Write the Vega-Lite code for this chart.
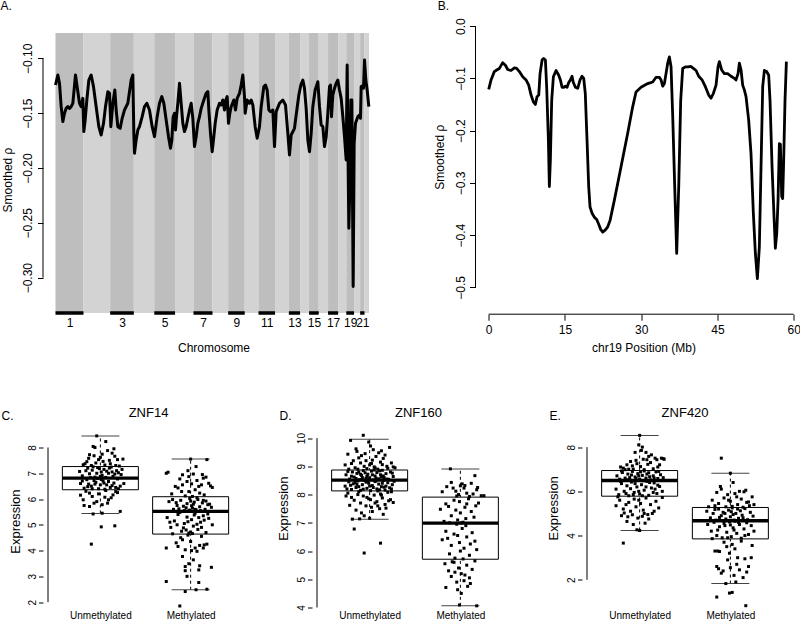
{
"$schema":"https://vega.github.io/schema/vega-lite/v6.json",
"background":"white",
"padding":{"left":0,"top":0,"right":0,"bottom":0},
"spacing":52.5,
"config":{
"font":"Liberation Sans",
"view":{"stroke":null},
"axis":{"domain":false,"grid":false,"labelFlush":false,"labelOverlap":false,"labelColor":"black","titleColor":"black","tickColor":"black","titleFontWeight":"normal","labelFontSize":12,"titleFontSize":12,"tickWidth":1},
"axisY":{"labelAngle":-90,"labelAlign":"center","labelBaseline":"alphabetic","titleAngle":-90,"titleAlign":"center","titleBaseline":"middle"},
"axisX":{"labelAngle":0,"labelBaseline":"top"},
"title":{"fontSize":12,"fontWeight":"normal","anchor":"start","frame":"group","color":"black","offset":1.8,"baseline":"alphabetic"}
},
"datasets":{
"chroms":[{"chr":1,"start":0,"end":252,"parity":"odd"},{"chr":2,"start":252,"end":492,"parity":"even"},{"chr":3,"start":492,"end":705,"parity":"odd"},{"chr":4,"start":705,"end":889,"parity":"even"},{"chr":5,"start":889,"end":1076,"parity":"odd"},{"chr":6,"start":1076,"end":1242,"parity":"even"},{"chr":7,"start":1242,"end":1413,"parity":"odd"},{"chr":8,"start":1413,"end":1554,"parity":"even"},{"chr":9,"start":1554,"end":1703,"parity":"odd"},{"chr":10,"start":1703,"end":1827,"parity":"even"},{"chr":11,"start":1827,"end":1976,"parity":"odd"},{"chr":12,"start":1976,"end":2100,"parity":"even"},{"chr":13,"start":2100,"end":2201,"parity":"odd"},{"chr":14,"start":2201,"end":2282,"parity":"even"},{"chr":15,"start":2282,"end":2369,"parity":"odd"},{"chr":16,"start":2369,"end":2453,"parity":"even"},{"chr":17,"start":2453,"end":2544,"parity":"odd"},{"chr":18,"start":2544,"end":2617,"parity":"even"},{"chr":19,"start":2617,"end":2687,"parity":"odd"},{"chr":20,"start":2687,"end":2742,"parity":"even"},{"chr":21,"start":2742,"end":2781,"parity":"odd"},{"chr":22,"start":2781,"end":2822,"parity":"even"}],
"gw":[{"pos":0,"rho":-0.1243},{"pos":21,"rho":-0.1152},{"pos":36,"rho":-0.1228},{"pos":51,"rho":-0.1441},{"pos":66,"rho":-0.1577},{"pos":81,"rho":-0.1501},{"pos":96,"rho":-0.1456},{"pos":111,"rho":-0.1441},{"pos":126,"rho":-0.1456},{"pos":141,"rho":-0.1441},{"pos":156,"rho":-0.141},{"pos":180,"rho":-0.1152},{"pos":201,"rho":-0.1304},{"pos":216,"rho":-0.141},{"pos":231,"rho":-0.1441},{"pos":246,"rho":-0.1365},{"pos":255,"rho":-0.1668},{"pos":267,"rho":-0.1562},{"pos":282,"rho":-0.138},{"pos":300,"rho":-0.1198},{"pos":321,"rho":-0.1152},{"pos":342,"rho":-0.1258},{"pos":366,"rho":-0.1441},{"pos":390,"rho":-0.1623},{"pos":411,"rho":-0.1699},{"pos":432,"rho":-0.1593},{"pos":450,"rho":-0.1441},{"pos":471,"rho":-0.1304},{"pos":486,"rho":-0.1319},{"pos":498,"rho":-0.1623},{"pos":516,"rho":-0.141},{"pos":534,"rho":-0.1289},{"pos":546,"rho":-0.1471},{"pos":561,"rho":-0.1623},{"pos":582,"rho":-0.1638},{"pos":600,"rho":-0.1547},{"pos":621,"rho":-0.1471},{"pos":651,"rho":-0.141},{"pos":681,"rho":-0.1198},{"pos":696,"rho":-0.1152},{"pos":705,"rho":-0.1684},{"pos":711,"rho":-0.1866},{"pos":726,"rho":-0.1744},{"pos":741,"rho":-0.1653},{"pos":756,"rho":-0.1623},{"pos":780,"rho":-0.1532},{"pos":801,"rho":-0.1441},{"pos":822,"rho":-0.141},{"pos":846,"rho":-0.1471},{"pos":870,"rho":-0.1623},{"pos":891,"rho":-0.1714},{"pos":915,"rho":-0.1532},{"pos":936,"rho":-0.141},{"pos":957,"rho":-0.1349},{"pos":975,"rho":-0.141},{"pos":996,"rho":-0.1562},{"pos":1017,"rho":-0.1714},{"pos":1035,"rho":-0.182},{"pos":1047,"rho":-0.1744},{"pos":1059,"rho":-0.1532},{"pos":1071,"rho":-0.1501},{"pos":1080,"rho":-0.1653},{"pos":1089,"rho":-0.1532},{"pos":1101,"rho":-0.141},{"pos":1116,"rho":-0.1228},{"pos":1131,"rho":-0.141},{"pos":1146,"rho":-0.1593},{"pos":1161,"rho":-0.1668},{"pos":1176,"rho":-0.1623},{"pos":1191,"rho":-0.1547},{"pos":1206,"rho":-0.1471},{"pos":1221,"rho":-0.141},{"pos":1236,"rho":-0.1547},{"pos":1251,"rho":-0.1805},{"pos":1266,"rho":-0.1714},{"pos":1281,"rho":-0.1593},{"pos":1296,"rho":-0.1532},{"pos":1311,"rho":-0.1456},{"pos":1335,"rho":-0.138},{"pos":1356,"rho":-0.1319},{"pos":1371,"rho":-0.1304},{"pos":1380,"rho":-0.1471},{"pos":1395,"rho":-0.1684},{"pos":1410,"rho":-0.1851},{"pos":1425,"rho":-0.1714},{"pos":1437,"rho":-0.1593},{"pos":1455,"rho":-0.1471},{"pos":1476,"rho":-0.141},{"pos":1491,"rho":-0.1425},{"pos":1506,"rho":-0.138},{"pos":1521,"rho":-0.1471},{"pos":1533,"rho":-0.138},{"pos":1545,"rho":-0.1349},{"pos":1557,"rho":-0.1593},{"pos":1569,"rho":-0.1501},{"pos":1581,"rho":-0.1441},{"pos":1605,"rho":-0.138},{"pos":1620,"rho":-0.1471},{"pos":1635,"rho":-0.1365},{"pos":1656,"rho":-0.1319},{"pos":1671,"rho":-0.1243},{"pos":1686,"rho":-0.1152},{"pos":1701,"rho":-0.1349},{"pos":1707,"rho":-0.1501},{"pos":1725,"rho":-0.138},{"pos":1746,"rho":-0.141},{"pos":1761,"rho":-0.138},{"pos":1776,"rho":-0.1425},{"pos":1797,"rho":-0.1623},{"pos":1815,"rho":-0.1729},{"pos":1836,"rho":-0.1623},{"pos":1851,"rho":-0.1441},{"pos":1875,"rho":-0.1258},{"pos":1890,"rho":-0.1243},{"pos":1905,"rho":-0.1289},{"pos":1920,"rho":-0.1471},{"pos":1935,"rho":-0.1486},{"pos":1956,"rho":-0.1471},{"pos":1971,"rho":-0.1805},{"pos":1986,"rho":-0.1486},{"pos":2016,"rho":-0.141},{"pos":2046,"rho":-0.138},{"pos":2070,"rho":-0.1425},{"pos":2091,"rho":-0.1684},{"pos":2106,"rho":-0.1881},{"pos":2121,"rho":-0.1699},{"pos":2151,"rho":-0.1638},{"pos":2166,"rho":-0.1517},{"pos":2190,"rho":-0.1334},{"pos":2208,"rho":-0.1243},{"pos":2226,"rho":-0.1198},{"pos":2241,"rho":-0.1273},{"pos":2256,"rho":-0.1456},{"pos":2271,"rho":-0.1744},{"pos":2286,"rho":-0.1851},{"pos":2301,"rho":-0.1684},{"pos":2316,"rho":-0.1441},{"pos":2337,"rho":-0.1289},{"pos":2361,"rho":-0.1213},{"pos":2376,"rho":-0.1441},{"pos":2391,"rho":-0.1608},{"pos":2406,"rho":-0.1623},{"pos":2421,"rho":-0.1805},{"pos":2436,"rho":-0.1714},{"pos":2451,"rho":-0.1501},{"pos":2466,"rho":-0.1258},{"pos":2475,"rho":-0.1243},{"pos":2484,"rho":-0.1532},{"pos":2496,"rho":-0.1334},{"pos":2511,"rho":-0.1273},{"pos":2526,"rho":-0.1228},{"pos":2541,"rho":-0.1198},{"pos":2556,"rho":-0.1289},{"pos":2571,"rho":-0.1365},{"pos":2586,"rho":-0.1532},{"pos":2601,"rho":-0.1714},{"pos":2616,"rho":-0.1927},{"pos":2625,"rho":-0.1061},{"pos":2634,"rho":-0.1988},{"pos":2640,"rho":-0.255},{"pos":2649,"rho":-0.217},{"pos":2658,"rho":-0.138},{"pos":2667,"rho":-0.138},{"pos":2679,"rho":-0.3081},{"pos":2688,"rho":-0.1775},{"pos":2700,"rho":-0.1593},{"pos":2721,"rho":-0.1532},{"pos":2736,"rho":-0.1517},{"pos":2745,"rho":-0.1547},{"pos":2751,"rho":-0.1258},{"pos":2763,"rho":-0.1252},{"pos":2772,"rho":-0.1273},{"pos":2781,"rho":-0.1015},{"pos":2793,"rho":-0.1198},{"pos":2805,"rho":-0.1289},{"pos":2820,"rho":-0.1441}],
"c19":[{"pos":0,"rho":-0.121},{"pos":0.46,"rho":-0.103},{"pos":1.11,"rho":-0.087},{"pos":1.57,"rho":-0.084},{"pos":2.1,"rho":-0.081},{"pos":2.75,"rho":-0.07},{"pos":3.28,"rho":-0.075},{"pos":3.74,"rho":-0.083},{"pos":4.39,"rho":-0.085},{"pos":5.05,"rho":-0.08},{"pos":5.5,"rho":-0.081},{"pos":6.03,"rho":-0.087},{"pos":6.69,"rho":-0.097},{"pos":7.34,"rho":-0.103},{"pos":7.87,"rho":-0.113},{"pos":8.33,"rho":-0.132},{"pos":8.79,"rho":-0.145},{"pos":9.18,"rho":-0.15},{"pos":9.51,"rho":-0.135},{"pos":9.84,"rho":-0.132},{"pos":10.1,"rho":-0.091},{"pos":10.5,"rho":-0.065},{"pos":10.8,"rho":-0.062},{"pos":11.15,"rho":-0.065},{"pos":11.4,"rho":-0.116},{"pos":11.74,"rho":-0.218},{"pos":11.93,"rho":-0.307},{"pos":12.13,"rho":-0.256},{"pos":12.39,"rho":-0.142},{"pos":12.72,"rho":-0.097},{"pos":13.25,"rho":-0.085},{"pos":13.77,"rho":-0.094},{"pos":14.1,"rho":-0.103},{"pos":14.43,"rho":-0.117},{"pos":14.75,"rho":-0.117},{"pos":15.08,"rho":-0.115},{"pos":15.41,"rho":-0.117},{"pos":15.74,"rho":-0.108},{"pos":16.06,"rho":-0.103},{"pos":16.39,"rho":-0.096},{"pos":16.65,"rho":-0.108},{"pos":17.05,"rho":-0.117},{"pos":17.51,"rho":-0.119},{"pos":17.97,"rho":-0.103},{"pos":18.36,"rho":-0.096},{"pos":18.69,"rho":-0.1},{"pos":19.0,"rho":-0.129},{"pos":19.34,"rho":-0.218},{"pos":19.67,"rho":-0.307},{"pos":19.93,"rho":-0.346},{"pos":20.33,"rho":-0.358},{"pos":20.8,"rho":-0.366},{"pos":21.25,"rho":-0.37},{"pos":21.64,"rho":-0.379},{"pos":22.03,"rho":-0.389},{"pos":22.43,"rho":-0.394},{"pos":22.95,"rho":-0.39},{"pos":23.41,"rho":-0.384},{"pos":23.87,"rho":-0.372},{"pos":24.72,"rho":-0.333},{"pos":26.03,"rho":-0.269},{"pos":27.34,"rho":-0.205},{"pos":28.33,"rho":-0.154},{"pos":28.98,"rho":-0.126},{"pos":29.97,"rho":-0.117},{"pos":31.28,"rho":-0.11},{"pos":32.26,"rho":-0.107},{"pos":32.92,"rho":-0.098},{"pos":33.57,"rho":-0.098},{"pos":33.9,"rho":-0.103},{"pos":34.23,"rho":-0.115},{"pos":34.56,"rho":-0.11},{"pos":34.88,"rho":-0.091},{"pos":35.21,"rho":-0.071},{"pos":35.54,"rho":-0.059},{"pos":35.87,"rho":-0.078},{"pos":36.2,"rho":-0.173},{"pos":36.59,"rho":-0.307},{"pos":36.98,"rho":-0.435},{"pos":37.38,"rho":-0.307},{"pos":37.77,"rho":-0.142},{"pos":38.16,"rho":-0.081},{"pos":38.69,"rho":-0.078},{"pos":39.21,"rho":-0.078},{"pos":39.74,"rho":-0.077},{"pos":40.26,"rho":-0.081},{"pos":40.79,"rho":-0.085},{"pos":41.31,"rho":-0.096},{"pos":41.97,"rho":-0.103},{"pos":42.62,"rho":-0.116},{"pos":43.28,"rho":-0.132},{"pos":43.74,"rho":-0.138},{"pos":44.19,"rho":-0.129},{"pos":44.72,"rho":-0.113},{"pos":45.11,"rho":-0.078},{"pos":45.37,"rho":-0.068},{"pos":45.83,"rho":-0.084},{"pos":46.36,"rho":-0.091},{"pos":47.01,"rho":-0.091},{"pos":47.67,"rho":-0.096},{"pos":48.33,"rho":-0.1},{"pos":48.65,"rho":-0.103},{"pos":49.05,"rho":-0.091},{"pos":49.31,"rho":-0.071},{"pos":49.64,"rho":-0.084},{"pos":49.96,"rho":-0.113},{"pos":50.29,"rho":-0.122},{"pos":50.62,"rho":-0.135},{"pos":51.14,"rho":-0.18},{"pos":51.6,"rho":-0.244},{"pos":52.06,"rho":-0.358},{"pos":52.46,"rho":-0.435},{"pos":52.85,"rho":-0.483},{"pos":53.24,"rho":-0.423},{"pos":53.64,"rho":-0.237},{"pos":53.9,"rho":-0.116},{"pos":54.23,"rho":-0.085},{"pos":54.69,"rho":-0.087},{"pos":55.08,"rho":-0.094},{"pos":55.34,"rho":-0.142},{"pos":55.74,"rho":-0.269},{"pos":56.13,"rho":-0.365},{"pos":56.39,"rho":-0.425},{"pos":56.66,"rho":-0.397},{"pos":56.92,"rho":-0.333},{"pos":57.18,"rho":-0.225},{"pos":57.38,"rho":-0.226},{"pos":57.64,"rho":-0.326},{"pos":57.83,"rho":-0.33},{"pos":58.03,"rho":-0.256},{"pos":58.29,"rho":-0.142},{"pos":58.56,"rho":-0.068}],
"aax":[{"a":-0.3,"b":-0.1}],
"bay":[{"a":-0.5,"b":0}],
"bax":[{"a":0,"b":60}],
"cax":[{"a":2,"b":8}],
"dax":[{"a":4,"b":10}],
"eax":[{"a":2,"b":8}],
"cbox":[{"g":1,"lo":5.44,"q1":6.36,"med":6.81,"q3":7.26,"hi":8.45},{"g":2,"lo":2.48,"q1":4.64,"med":5.52,"q3":6.09,"hi":7.55}],
"dbox":[{"g":1,"lo":7.13,"q1":8.13,"med":8.51,"q3":8.87,"hi":9.96},{"g":2,"lo":4.06,"q1":5.71,"med":6.99,"q3":7.91,"hi":8.91}],
"ebox":[{"g":1,"lo":4.23,"q1":5.78,"med":6.49,"q3":6.94,"hi":8.53},{"g":2,"lo":1.83,"q1":3.85,"med":4.67,"q3":5.27,"hi":6.82}],
"cpts":[{"x":0.96,"y":8.45},{"x":1.06,"y":8.23},{"x":0.92,"y":8.04},{"x":0.94,"y":8.0},{"x":1.15,"y":7.95},{"x":0.88,"y":7.72},{"x":1.02,"y":7.74},{"x":1.08,"y":7.88},{"x":0.87,"y":7.58},{"x":0.98,"y":7.53},{"x":1.16,"y":7.66},{"x":1.19,"y":7.53},{"x":1.25,"y":7.55},{"x":0.95,"y":7.4},{"x":1.03,"y":7.46},{"x":1.11,"y":7.37},{"x":1.17,"y":7.3},{"x":0.81,"y":7.33},{"x":0.83,"y":7.37},{"x":1.21,"y":7.28},{"x":0.9,"y":7.3},{"x":1.0,"y":7.62},{"x":1.1,"y":7.5},{"x":0.85,"y":7.45},{"x":1.13,"y":7.78},{"x":0.93,"y":7.68},{"x":1.05,"y":7.32},
{"x":0.77,"y":7.07},{"x":0.86,"y":7.2},{"x":0.91,"y":7.12},{"x":0.97,"y":7.22},{"x":1.01,"y":7.05},{"x":1.04,"y":7.15},{"x":1.09,"y":7.0},{"x":1.12,"y":7.24},{"x":1.18,"y":7.1},{"x":1.23,"y":6.95},{"x":0.8,"y":6.9},{"x":0.88,"y":6.98},{"x":0.94,"y":6.85},{"x":0.99,"y":7.18},{"x":1.02,"y":6.92},{"x":1.07,"y":7.08},{"x":1.14,"y":6.88},{"x":1.2,"y":7.02},{"x":0.84,"y":7.1},{"x":0.96,"y":7.0},{"x":1.06,"y":6.84},{"x":1.1,"y":7.2},{"x":0.92,"y":7.25},{"x":1.16,"y":6.97},{"x":1.0,"y":6.88},{"x":0.89,"y":6.83},{"x":1.24,"y":7.15},{"x":1.13,"y":7.05},
{"x":0.78,"y":6.6},{"x":0.85,"y":6.75},{"x":0.9,"y":6.5},{"x":0.95,"y":6.65},{"x":0.98,"y":6.4},{"x":1.03,"y":6.7},{"x":1.07,"y":6.55},{"x":1.11,"y":6.45},{"x":1.15,"y":6.62},{"x":1.19,"y":6.78},{"x":1.22,"y":6.5},{"x":0.82,"y":6.42},{"x":0.87,"y":6.58},{"x":0.93,"y":6.72},{"x":1.0,"y":6.55},{"x":1.05,"y":6.38},{"x":1.09,"y":6.68},{"x":1.17,"y":6.45},{"x":1.26,"y":6.6},{"x":0.8,"y":6.7},{"x":0.91,"y":6.4},{"x":0.97,"y":6.8},{"x":1.04,"y":6.62},{"x":1.13,"y":6.52},{"x":0.86,"y":6.48},{"x":1.01,"y":6.76},{"x":1.2,"y":6.4},{"x":0.94,"y":6.58},
{"x":0.82,"y":5.75},{"x":0.88,"y":5.71},{"x":0.81,"y":5.97},{"x":0.93,"y":5.84},{"x":1.02,"y":5.78},{"x":1.08,"y":5.84},{"x":1.09,"y":5.97},{"x":1.05,"y":6.07},{"x":0.98,"y":6.2},{"x":0.91,"y":6.1},{"x":1.14,"y":6.16},{"x":1.17,"y":6.29},{"x":0.88,"y":6.23},{"x":1.22,"y":5.52},{"x":1.02,"y":5.45},{"x":0.92,"y":5.42},{"x":0.84,"y":6.3},{"x":1.12,"y":6.05},{"x":0.96,"y":5.9},{"x":1.19,"y":6.25},{"x":0.78,"y":6.15},{"x":1.06,"y":6.33},{"x":1.01,"y":4.92},{"x":1.16,"y":4.96},{"x":0.9,"y":4.25},
{"x":2.0,"y":7.55},{"x":2.18,"y":7.53},{"x":2.06,"y":7.26},{"x":1.73,"y":7.0},{"x":1.75,"y":7.04},{"x":1.91,"y":6.94},{"x":1.98,"y":6.87},{"x":2.03,"y":6.97},{"x":2.14,"y":6.81},{"x":2.17,"y":6.85},{"x":1.88,"y":6.78},{"x":1.83,"y":6.49},{"x":1.86,"y":6.43},{"x":1.91,"y":6.55},{"x":1.96,"y":6.68},{"x":2.01,"y":6.59},{"x":2.07,"y":6.72},{"x":2.09,"y":6.49},{"x":2.12,"y":6.55},{"x":2.2,"y":6.61},{"x":2.22,"y":6.51},{"x":1.9,"y":6.29},{"x":1.98,"y":6.29},{"x":2.1,"y":6.23},{"x":2.15,"y":6.16},{"x":2.05,"y":6.36},{"x":1.94,"y":6.12},{"x":2.24,"y":6.45},{"x":1.79,"y":6.2},{"x":2.02,"y":6.1},{"x":2.13,"y":6.95},{"x":1.97,"y":7.1},
{"x":1.76,"y":5.9},{"x":1.81,"y":5.6},{"x":1.85,"y":5.75},{"x":1.89,"y":5.95},{"x":1.93,"y":5.55},{"x":1.96,"y":5.82},{"x":1.99,"y":6.02},{"x":2.02,"y":5.65},{"x":2.04,"y":5.88},{"x":2.06,"y":5.58},{"x":2.08,"y":5.98},{"x":2.1,"y":5.7},{"x":2.13,"y":5.85},{"x":2.16,"y":5.6},{"x":2.19,"y":5.78},{"x":2.23,"y":5.68},{"x":1.8,"y":5.98},{"x":1.87,"y":5.62},{"x":1.92,"y":5.72},{"x":1.97,"y":5.53},{"x":2.0,"y":5.92},{"x":2.03,"y":5.8},{"x":2.07,"y":6.05},{"x":2.11,"y":5.55},{"x":2.14,"y":5.95},{"x":2.21,"y":5.8},{"x":1.95,"y":5.66},{"x":2.01,"y":5.74},{"x":2.05,"y":5.6},{"x":1.84,"y":5.86},{"x":2.17,"y":5.92},{"x":1.99,"y":5.57},
{"x":1.74,"y":5.28},{"x":1.78,"y":4.9},{"x":1.82,"y":5.15},{"x":1.86,"y":5.4},{"x":1.9,"y":4.75},{"x":1.93,"y":5.05},{"x":1.96,"y":5.3},{"x":1.98,"y":4.68},{"x":2.01,"y":5.2},{"x":2.03,"y":4.95},{"x":2.05,"y":5.45},{"x":2.08,"y":4.82},{"x":2.11,"y":5.1},{"x":2.14,"y":5.35},{"x":2.17,"y":4.7},{"x":2.2,"y":5.25},{"x":2.24,"y":5.0},{"x":1.8,"y":4.65},{"x":1.88,"y":5.48},{"x":1.92,"y":4.88},{"x":1.97,"y":5.12},{"x":2.0,"y":4.72},{"x":2.04,"y":5.38},{"x":2.07,"y":5.02},{"x":2.12,"y":4.9},{"x":2.15,"y":5.18},{"x":2.19,"y":5.42},{"x":1.85,"y":5.0},{"x":1.95,"y":4.8},{"x":2.09,"y":5.28},{"x":2.02,"y":4.66},{"x":1.77,"y":5.1},
{"x":1.73,"y":4.1},{"x":1.86,"y":4.16},{"x":1.91,"y":4.42},{"x":1.94,"y":4.03},{"x":2.01,"y":4.0},{"x":2.05,"y":4.1},{"x":2.1,"y":4.2},{"x":2.15,"y":4.22},{"x":2.18,"y":4.25},{"x":2.14,"y":4.1},{"x":2.07,"y":3.97},{"x":1.91,"y":3.77},{"x":2.03,"y":3.64},{"x":1.98,"y":3.49},{"x":1.94,"y":3.38},{"x":2.09,"y":3.25},{"x":2.1,"y":3.41},{"x":1.94,"y":3.22},{"x":2.23,"y":3.35},{"x":1.96,"y":3.0},{"x":1.73,"y":2.8},{"x":2.09,"y":2.76},{"x":1.94,"y":2.41},{"x":2.06,"y":2.48},{"x":2.18,"y":2.5},{"x":1.89,"y":4.5},{"x":2.0,"y":4.35},{"x":2.12,"y":4.55},{"x":1.97,"y":4.6},{"x":1.84,"y":4.3},{"x":1.88,"y":1.85}],
"dpts":[{"x":0.93,"y":10.1},{"x":0.79,"y":9.92},{"x":0.99,"y":9.86},{"x":1.22,"y":9.67},{"x":0.76,"y":9.43},{"x":0.86,"y":9.53},{"x":0.95,"y":9.45},{"x":1.04,"y":9.59},{"x":1.07,"y":9.35},{"x":1.15,"y":9.28},{"x":0.82,"y":9.2},{"x":0.9,"y":9.12},{"x":1.0,"y":9.05},{"x":1.12,"y":9.15},{"x":1.19,"y":9.0},{"x":1.26,"y":8.98},{"x":0.73,"y":9.05},{"x":0.84,"y":8.95},{"x":0.97,"y":8.92},{"x":1.03,"y":9.22},{"x":1.09,"y":8.9},{"x":1.17,"y":9.4},{"x":0.88,"y":9.3},{"x":1.01,"y":9.72},{"x":1.1,"y":9.48},{"x":0.8,"y":9.1},{"x":0.94,"y":9.0},{"x":1.06,"y":8.95},{"x":1.14,"y":9.06},{"x":1.24,"y":9.12},{"x":0.77,"y":8.9},{"x":0.91,"y":9.38},{"x":1.02,"y":9.1},{"x":1.2,"y":8.93},{"x":0.85,"y":9.62},{"x":1.13,"y":9.55},{"x":0.96,"y":9.2},{"x":1.05,"y":8.98},{"x":1.28,"y":8.95},{"x":0.87,"y":8.9},
{"x":0.74,"y":8.7},{"x":0.78,"y":8.55},{"x":0.81,"y":8.8},{"x":0.83,"y":8.62},{"x":0.86,"y":8.75},{"x":0.89,"y":8.53},{"x":0.91,"y":8.68},{"x":0.93,"y":8.85},{"x":0.96,"y":8.58},{"x":0.98,"y":8.72},{"x":1.0,"y":8.6},{"x":1.02,"y":8.83},{"x":1.04,"y":8.52},{"x":1.06,"y":8.66},{"x":1.08,"y":8.78},{"x":1.1,"y":8.56},{"x":1.12,"y":8.7},{"x":1.14,"y":8.86},{"x":1.16,"y":8.6},{"x":1.18,"y":8.74},{"x":1.21,"y":8.54},{"x":1.23,"y":8.8},{"x":1.26,"y":8.64},{"x":0.76,"y":8.82},{"x":0.8,"y":8.65},{"x":0.85,"y":8.57},{"x":0.88,"y":8.8},{"x":0.92,"y":8.6},{"x":0.95,"y":8.77},{"x":0.99,"y":8.53},{"x":1.03,"y":8.7},{"x":1.07,"y":8.58},{"x":1.11,"y":8.84},{"x":1.15,"y":8.66},{"x":1.19,"y":8.55},{"x":1.25,"y":8.76},{"x":0.9,"y":8.72},{"x":0.97,"y":8.64},{"x":1.05,"y":8.87},{"x":1.13,"y":8.62},
{"x":0.73,"y":8.3},{"x":0.77,"y":8.45},{"x":0.8,"y":8.18},{"x":0.82,"y":8.38},{"x":0.85,"y":8.25},{"x":0.87,"y":8.48},{"x":0.9,"y":8.15},{"x":0.92,"y":8.35},{"x":0.94,"y":8.5},{"x":0.97,"y":8.22},{"x":0.99,"y":8.4},{"x":1.01,"y":8.14},{"x":1.03,"y":8.32},{"x":1.06,"y":8.46},{"x":1.08,"y":8.2},{"x":1.1,"y":8.37},{"x":1.13,"y":8.28},{"x":1.15,"y":8.5},{"x":1.17,"y":8.16},{"x":1.2,"y":8.42},{"x":1.22,"y":8.24},{"x":1.25,"y":8.35},{"x":1.27,"y":8.47},{"x":0.75,"y":8.2},{"x":0.79,"y":8.33},{"x":0.84,"y":8.43},{"x":0.88,"y":8.28},{"x":0.93,"y":8.19},{"x":0.96,"y":8.44},{"x":1.0,"y":8.3},{"x":1.04,"y":8.25},{"x":1.07,"y":8.49},{"x":1.11,"y":8.17},{"x":1.14,"y":8.4},{"x":1.18,"y":8.3},{"x":1.24,"y":8.2},{"x":0.86,"y":8.36},{"x":0.98,"y":8.47},{"x":1.09,"y":8.13},{"x":1.16,"y":8.26},
{"x":0.76,"y":8.05},{"x":0.8,"y":7.9},{"x":0.83,"y":7.8},{"x":0.87,"y":8.0},{"x":0.9,"y":7.7},{"x":0.93,"y":7.95},{"x":0.96,"y":7.6},{"x":0.99,"y":7.85},{"x":1.02,"y":7.55},{"x":1.05,"y":7.98},{"x":1.08,"y":7.75},{"x":1.11,"y":7.5},{"x":1.14,"y":7.88},{"x":1.17,"y":7.65},{"x":1.2,"y":8.08},{"x":1.23,"y":7.82},{"x":1.26,"y":7.72},{"x":0.78,"y":7.62},{"x":0.85,"y":7.45},{"x":0.91,"y":7.35},{"x":0.97,"y":7.9},{"x":1.03,"y":7.4},{"x":1.09,"y":7.6},{"x":1.15,"y":7.3},{"x":1.21,"y":7.78},{"x":0.81,"y":7.13},{"x":0.89,"y":7.14},{"x":1.0,"y":7.16},{"x":1.12,"y":8.02},{"x":0.94,"y":7.25},{"x":1.06,"y":7.7},{"x":1.18,"y":7.52},{"x":0.74,"y":7.95},{"x":1.24,"y":8.1},{"x":0.88,"y":8.1},{"x":1.01,"y":7.82},{"x":1.13,"y":7.98},{"x":0.83,"y":6.78},{"x":1.12,"y":6.28},{"x":0.94,"y":5.93},
{"x":1.89,"y":8.91},{"x":2.16,"y":8.67},{"x":1.9,"y":8.43},{"x":1.92,"y":8.23},{"x":2.0,"y":8.31},{"x":2.02,"y":8.38},{"x":2.04,"y":8.23},{"x":1.95,"y":8.12},{"x":2.18,"y":8.17},{"x":2.19,"y":8.25},{"x":2.23,"y":7.96},{"x":2.26,"y":7.96},{"x":1.98,"y":8.0},{"x":2.07,"y":8.05},{"x":1.85,"y":8.28},{"x":2.1,"y":7.93},{"x":1.8,"y":8.1},{"x":2.12,"y":8.4},{"x":2.05,"y":8.32},{"x":1.96,"y":7.95},{"x":2.14,"y":8.02},
{"x":1.78,"y":7.48},{"x":1.84,"y":7.67},{"x":1.87,"y":7.58},{"x":2.07,"y":7.67},{"x":2.12,"y":7.4},{"x":1.9,"y":7.25},{"x":1.93,"y":7.8},{"x":1.97,"y":7.1},{"x":2.0,"y":7.35},{"x":2.03,"y":7.02},{"x":2.05,"y":7.55},{"x":2.09,"y":7.85},{"x":2.15,"y":7.2},{"x":2.2,"y":7.7},{"x":1.82,"y":7.05},{"x":1.88,"y":7.0},{"x":1.95,"y":7.45},{"x":2.01,"y":7.0},{"x":2.06,"y":7.15},{"x":2.17,"y":7.6},{"x":1.99,"y":7.75},
{"x":1.84,"y":6.7},{"x":1.86,"y":6.45},{"x":1.9,"y":6.2},{"x":1.93,"y":6.6},{"x":1.96,"y":6.95},{"x":1.99,"y":6.3},{"x":2.02,"y":6.8},{"x":2.04,"y":6.1},{"x":2.07,"y":6.5},{"x":2.1,"y":5.85},{"x":2.13,"y":6.65},{"x":2.16,"y":6.35},{"x":1.88,"y":5.9},{"x":1.94,"y":5.75},{"x":2.0,"y":6.0},{"x":2.06,"y":6.9},{"x":2.11,"y":6.25},{"x":1.8,"y":6.4},{"x":2.18,"y":6.05},{"x":1.97,"y":6.55},{"x":2.03,"y":5.72},
{"x":1.83,"y":5.55},{"x":1.87,"y":5.3},{"x":1.9,"y":5.1},{"x":1.93,"y":5.6},{"x":1.96,"y":4.9},{"x":1.98,"y":5.4},{"x":2.01,"y":5.2},{"x":2.04,"y":4.95},{"x":2.07,"y":5.5},{"x":2.1,"y":5.05},{"x":2.13,"y":5.35},{"x":2.16,"y":5.65},{"x":1.84,"y":4.71},{"x":1.97,"y":4.63},{"x":2.01,"y":4.5},{"x":1.99,"y":4.09},{"x":2.18,"y":4.06},{"x":1.91,"y":5.62},{"x":2.05,"y":5.15},{"x":2.11,"y":4.85},{"x":1.94,"y":5.25},{"x":2.08,"y":4.75}],
"epts":[{"x":1.0,"y":8.53},{"x":0.99,"y":8.1},{"x":1.03,"y":8.0},{"x":0.95,"y":7.76},{"x":1.07,"y":7.76},{"x":1.1,"y":7.58},{"x":1.08,"y":7.43},{"x":1.24,"y":7.5},{"x":1.19,"y":7.43},{"x":1.2,"y":7.1},{"x":0.82,"y":7.05},{"x":0.86,"y":7.2},{"x":0.9,"y":7.35},{"x":0.93,"y":7.0},{"x":0.97,"y":7.25},{"x":1.01,"y":7.12},{"x":1.04,"y":7.45},{"x":1.12,"y":7.3},{"x":1.15,"y":7.02},{"x":1.17,"y":7.5},{"x":1.22,"y":7.2},{"x":1.26,"y":7.48},{"x":0.79,"y":7.1},{"x":0.88,"y":7.0},{"x":0.92,"y":7.15},{"x":1.05,"y":6.98},{"x":1.13,"y":7.65},{"x":1.02,"y":7.85},{"x":0.96,"y":7.4},{"x":1.27,"y":7.45},{"x":0.84,"y":6.98},{"x":1.09,"y":7.22},
{"x":0.75,"y":6.7},{"x":0.78,"y":6.55},{"x":0.81,"y":6.85},{"x":0.84,"y":6.6},{"x":0.87,"y":6.78},{"x":0.9,"y":6.5},{"x":0.92,"y":6.9},{"x":0.95,"y":6.65},{"x":0.98,"y":6.8},{"x":1.0,"y":6.55},{"x":1.03,"y":6.72},{"x":1.05,"y":6.92},{"x":1.07,"y":6.6},{"x":1.1,"y":6.84},{"x":1.12,"y":6.52},{"x":1.15,"y":6.7},{"x":1.18,"y":6.88},{"x":1.2,"y":6.58},{"x":1.23,"y":6.75},{"x":1.26,"y":6.62},{"x":0.8,"y":6.92},{"x":0.86,"y":6.52},{"x":0.91,"y":6.74},{"x":0.96,"y":6.58},{"x":1.01,"y":6.88},{"x":1.06,"y":6.5},{"x":1.11,"y":6.66},{"x":1.16,"y":6.6},{"x":1.21,"y":6.9},{"x":0.89,"y":6.62},{"x":0.99,"y":6.7},{"x":1.08,"y":6.78},
{"x":0.74,"y":6.1},{"x":0.77,"y":5.85},{"x":0.8,"y":6.35},{"x":0.83,"y":6.0},{"x":0.86,"y":6.25},{"x":0.88,"y":5.8},{"x":0.91,"y":6.42},{"x":0.94,"y":5.95},{"x":0.97,"y":6.2},{"x":1.0,"y":5.88},{"x":1.02,"y":6.3},{"x":1.05,"y":6.05},{"x":1.08,"y":6.45},{"x":1.1,"y":5.82},{"x":1.13,"y":6.15},{"x":1.16,"y":6.38},{"x":1.19,"y":5.9},{"x":1.22,"y":6.22},{"x":1.25,"y":6.0},{"x":0.79,"y":6.45},{"x":0.85,"y":5.9},{"x":0.9,"y":6.12},{"x":0.95,"y":6.35},{"x":0.99,"y":6.0},{"x":1.03,"y":5.8},{"x":1.07,"y":6.2},{"x":1.11,"y":6.4},{"x":1.15,"y":5.95},{"x":1.2,"y":6.28},{"x":0.93,"y":5.85},{"x":1.04,"y":6.48},{"x":1.17,"y":6.1},
{"x":0.74,"y":5.35},{"x":0.82,"y":5.2},{"x":0.83,"y":5.02},{"x":0.92,"y":4.94},{"x":1.03,"y":4.87},{"x":0.86,"y":4.64},{"x":0.98,"y":4.79},{"x":1.06,"y":4.56},{"x":0.97,"y":4.26},{"x":1.0,"y":4.23},{"x":0.78,"y":5.6},{"x":0.8,"y":4.9},{"x":0.88,"y":5.5},{"x":0.9,"y":5.1},{"x":0.94,"y":5.65},{"x":0.96,"y":5.3},{"x":1.01,"y":5.45},{"x":1.04,"y":5.15},{"x":1.07,"y":5.7},{"x":1.09,"y":4.95},{"x":1.12,"y":5.4},{"x":1.14,"y":5.0},{"x":1.18,"y":5.55},{"x":1.21,"y":5.25},{"x":1.25,"y":5.72},{"x":0.76,"y":5.75},{"x":0.85,"y":5.4},{"x":0.99,"y":5.6},{"x":1.1,"y":4.75},{"x":1.16,"y":5.1},{"x":0.93,"y":4.5},{"x":1.05,"y":5.0},{"x":0.87,"y":4.85},{"x":0.82,"y":3.66},
{"x":1.9,"y":7.5},{"x":2.0,"y":6.82},{"x":2.03,"y":6.4},{"x":1.89,"y":6.22},{"x":1.9,"y":6.1},{"x":1.85,"y":5.95},{"x":1.93,"y":5.7},{"x":1.97,"y":5.85},{"x":2.0,"y":5.55},{"x":2.05,"y":5.9},{"x":2.08,"y":5.4},{"x":2.12,"y":5.65},{"x":2.15,"y":5.98},{"x":2.18,"y":5.5},{"x":2.21,"y":5.35},{"x":2.24,"y":5.75},{"x":1.8,"y":5.6},{"x":1.83,"y":5.35},{"x":1.87,"y":5.45},{"x":1.95,"y":5.3},{"x":2.02,"y":5.32},{"x":2.07,"y":5.75},{"x":2.1,"y":6.0},{"x":2.14,"y":5.28},{"x":2.2,"y":5.52},{"x":2.26,"y":5.4},{"x":1.76,"y":5.3},{"x":1.98,"y":5.6},{"x":2.17,"y":6.05},
{"x":1.74,"y":5.1},{"x":1.78,"y":4.8},{"x":1.81,"y":5.0},{"x":1.84,"y":4.7},{"x":1.87,"y":5.2},{"x":1.9,"y":4.9},{"x":1.92,"y":5.05},{"x":1.95,"y":4.75},{"x":1.98,"y":5.15},{"x":2.0,"y":4.85},{"x":2.02,"y":5.25},{"x":2.04,"y":4.7},{"x":2.06,"y":5.0},{"x":2.09,"y":4.78},{"x":2.11,"y":5.12},{"x":2.13,"y":4.92},{"x":2.16,"y":5.22},{"x":2.19,"y":4.72},{"x":2.22,"y":5.05},{"x":2.25,"y":4.88},{"x":1.83,"y":5.18},{"x":1.88,"y":4.82},{"x":1.94,"y":5.0},{"x":1.99,"y":4.68},{"x":2.03,"y":4.95},{"x":2.08,"y":5.2},{"x":2.14,"y":4.8},{"x":2.01,"y":5.08},
{"x":1.75,"y":4.5},{"x":1.79,"y":4.2},{"x":1.82,"y":4.6},{"x":1.85,"y":4.0},{"x":1.88,"y":4.4},{"x":1.91,"y":3.9},{"x":1.93,"y":4.55},{"x":1.96,"y":4.15},{"x":1.99,"y":4.62},{"x":2.01,"y":3.95},{"x":2.03,"y":4.35},{"x":2.05,"y":4.65},{"x":2.07,"y":4.1},{"x":2.1,"y":4.5},{"x":2.12,"y":3.88},{"x":2.15,"y":4.3},{"x":2.18,"y":4.58},{"x":2.2,"y":4.05},{"x":2.23,"y":4.45},{"x":2.26,"y":4.2},{"x":1.8,"y":3.86},{"x":1.86,"y":4.25},{"x":1.94,"y":4.45},{"x":1.97,"y":3.9},{"x":2.04,"y":4.25},{"x":2.09,"y":4.6},{"x":2.16,"y":4.0},{"x":2.0,"y":4.48},
{"x":1.83,"y":3.3},{"x":1.86,"y":3.3},{"x":1.88,"y":3.28},{"x":1.93,"y":3.7},{"x":1.96,"y":3.5},{"x":1.99,"y":3.2},{"x":2.02,"y":3.6},{"x":2.05,"y":3.4},{"x":2.08,"y":3.0},{"x":2.12,"y":3.75},{"x":2.16,"y":2.95},{"x":2.2,"y":2.6},{"x":2.23,"y":3.0},{"x":1.85,"y":2.6},{"x":1.87,"y":2.5},{"x":1.9,"y":2.3},{"x":1.92,"y":2.4},{"x":1.97,"y":2.9},{"x":2.0,"y":2.55},{"x":2.04,"y":2.2},{"x":2.07,"y":2.7},{"x":2.1,"y":2.45},{"x":2.14,"y":2.1},{"x":2.18,"y":2.35},{"x":1.95,"y":1.83},{"x":2.06,"y":1.9},{"x":2.24,"y":3.55},{"x":1.85,"y":1.22},{"x":1.99,"y":1.4},{"x":2.02,"y":1.43},{"x":2.17,"y":0.83}]
},
"vconcat":[
{"hconcat":[
{"width":338,"height":298,"title":{"text":"A.","dx":-42.5},
"layer":[
{"data":{"name":"chroms"},"mark":{"type":"rect"},"encoding":{
"x":{"field":"start","type":"quantitative","scale":{"domain":[-112.5,2929.5],"nice":false,"zero":false},"axis":{"values":[126,598.5,982.5,1327.5,1628.5,1901.5,2150.5,2325.5,2498.5,2652,2761.5],"tickCount":40,"labelExpr":"'' + (2*indexof([126,598.5,982.5,1327.5,1628.5,1901.5,2150.5,2325.5,2498.5,2652,2761.5], datum.value)+1)","labelOverlap":false,"labelBound":false,"ticks":false,"tickSize":0,"labelPadding":4.5,"title":"Chromosome","titleX":170.5,"titleY":38.5,"titleBaseline":"alphabetic"}},
"x2":{"field":"end"},
"y":{"datum":-0.3322,"type":"quantitative","scale":{"domain":[-0.3322,-0.0605],"nice":false,"zero":false},"axis":{"values":[-0.3,-0.25,-0.2,-0.15,-0.1],"tickCount":40,"format":".2f","labelOverlap":false,"tickSize":5.5,"labelPadding":6.3,"title":"Smoothed ρ","titleX":-35.3,"titleY":164.5}},
"y2":{"datum":-0.077},
"color":{"field":"parity","type":"nominal","scale":{"domain":["odd","even"],"range":["#BEBEBE","#D3D3D3"]},"legend":null}}},
{"data":{"name":"chroms"},"transform":[{"filter":"datum.parity == 'odd'"}],"mark":{"type":"rule","color":"black","strokeWidth":3.5},"encoding":{"x":{"field":"start","type":"quantitative"},"x2":{"field":"end"},"y":{"datum":-0.3322}}},
{"data":{"name":"gw"},"mark":{"type":"line","color":"black","strokeWidth":3,"strokeJoin":"round"},"encoding":{"x":{"field":"pos","type":"quantitative"},"y":{"field":"rho","type":"quantitative"}}},
{"data":{"name":"aax"},"mark":{"type":"rule","color":"black","strokeWidth":1},"encoding":{"x":{"datum":-112.5},"y":{"field":"a","type":"quantitative"},"y2":{"field":"b"}}}
]},
{"width":323.8,"height":299.2,"title":{"text":"B.","dx":-37.7},
"layer":[
{"data":{"name":"c19"},"mark":{"type":"line","color":"black","strokeWidth":2.8,"strokeJoin":"round"},"encoding":{
"x":{"field":"pos","type":"quantitative","scale":{"domain":[-2.6,61.1],"nice":false,"zero":false},"axis":{"values":[0,15,30,45,60],"tickCount":40,"labelOverlap":false,"tickSize":6,"labelPadding":4.5,"title":"chr19 Position (Mb)","titleX":168,"titleY":36.8,"titleBaseline":"alphabetic"}},
"y":{"field":"rho","type":"quantitative","scale":{"domain":[-0.5512,0.0212],"nice":false,"zero":false},"axis":{"values":[-0.5,-0.4,-0.3,-0.2,-0.1,0],"tickCount":40,"format":".1f","labelOverlap":false,"tickSize":6,"labelPadding":5,"title":"Smoothed ρ","titleX":-36,"titleY":141.7}}}},
{"data":{"name":"bay"},"mark":{"type":"rule","color":"black","strokeWidth":1},"encoding":{"x":{"datum":-2.6},"y":{"field":"a","type":"quantitative"},"y2":{"field":"b"}}},
{"data":{"name":"bax"},"mark":{"type":"rule","color":"black","strokeWidth":1},"encoding":{"y":{"datum":-0.5512},"x":{"field":"a","type":"quantitative"},"x2":{"field":"b"}}}
]}
],"spacing":94.5,"bounds":"flush"},
{"hconcat":[
{"width":205,"height":184.1,"title":{"text":"C.","dx":-41.5,"dy":17.8},
"layer":[
{"data":{"name":"cbox"},"mark":{"type":"rule","strokeDash":[3,3],"color":"black","strokeWidth":1},"encoding":{
"x":{"field":"g","type":"quantitative","scale":{"domain":[0.42,2.58],"nice":false,"zero":false},"axis":{"values":[1,2],"tickCount":40,"labelExpr":"datum.value == 1 ? 'Unmethylated' : 'Methylated'","labelOverlap":false,"ticks":false,"tickSize":0,"labelPadding":-2,"labelFontSize":10,"title":"ZNF14","titleFontSize":13,"titleX":105,"titleY":-195.6,"titleBaseline":"alphabetic","titleAlign":"center"}},
"y":{"field":"lo","type":"quantitative","scale":{"domain":[1.593,8.737],"nice":false,"zero":false},"axis":{"values":[2,3,4,5,6,7,8],"tickCount":40,"format":"d","labelOverlap":false,"tickSize":4.5,"labelPadding":3,"labelFontSize":10,"title":"Expression","titleFontSize":13,"titleX":-28,"titleY":92.6}},
"y2":{"field":"hi"}}},
{"data":{"name":"cbox"},"mark":{"type":"bar","width":76,"fill":"white","stroke":"black","strokeWidth":1},"encoding":{"x":{"field":"g","type":"quantitative"},"y":{"field":"q1","type":"quantitative"},"y2":{"field":"q3"}}},
{"data":{"name":"cbox"},"mark":{"type":"tick","orient":"horizontal","size":76,"thickness":3.3,"color":"black","opacity":1},"encoding":{"x":{"field":"g","type":"quantitative"},"y":{"field":"med","type":"quantitative"}}},
{"data":{"name":"cbox"},"mark":{"type":"tick","orient":"horizontal","size":38,"thickness":1,"color":"#444","opacity":1},"encoding":{"x":{"field":"g","type":"quantitative"},"y":{"field":"lo","type":"quantitative"}}},
{"data":{"name":"cbox"},"mark":{"type":"tick","orient":"horizontal","size":38,"thickness":1,"color":"#444","opacity":1},"encoding":{"x":{"field":"g","type":"quantitative"},"y":{"field":"hi","type":"quantitative"}}},
{"data":{"name":"cax"},"mark":{"type":"rule","color":"black","strokeWidth":1},"encoding":{"x":{"datum":0.42},"y":{"field":"a","type":"quantitative"},"y2":{"field":"b"}}},
{"data":{"name":"cpts"},"mark":{"type":"square","size":9,"color":"black","opacity":1},"encoding":{"x":{"field":"x","type":"quantitative"},"y":{"field":"y","type":"quantitative"}}}
]},
{"width":206,"height":184.1,"title":{"text":"D.","dx":-32.4,"dy":17.8},
"layer":[
{"data":{"name":"dbox"},"mark":{"type":"rule","strokeDash":[3,3],"color":"black","strokeWidth":1},"encoding":{
"x":{"field":"g","type":"quantitative","scale":{"domain":[0.42,2.58],"nice":false,"zero":false},"axis":{"values":[1,2],"tickCount":40,"labelExpr":"datum.value == 1 ? 'Unmethylated' : 'Methylated'","labelOverlap":false,"ticks":false,"tickSize":0,"labelPadding":-2,"labelFontSize":10,"title":"ZNF160","titleFontSize":13,"titleX":106,"titleY":-195.6,"titleBaseline":"alphabetic","titleAlign":"center"}},
"y":{"field":"lo","type":"quantitative","scale":{"domain":[3.82,10.34],"nice":false,"zero":false},"axis":{"values":[4,5,6,7,8,9,10],"tickCount":40,"format":"d","labelOverlap":false,"tickSize":4.5,"labelPadding":3,"labelFontSize":10,"title":"Expression","titleFontSize":13,"titleX":-28.7,"titleY":79.6}},
"y2":{"field":"hi"}}},
{"data":{"name":"dbox"},"mark":{"type":"bar","width":76,"fill":"white","stroke":"black","strokeWidth":1},"encoding":{"x":{"field":"g","type":"quantitative"},"y":{"field":"q1","type":"quantitative"},"y2":{"field":"q3"}}},
{"data":{"name":"dbox"},"mark":{"type":"tick","orient":"horizontal","size":76,"thickness":3.3,"color":"black","opacity":1},"encoding":{"x":{"field":"g","type":"quantitative"},"y":{"field":"med","type":"quantitative"}}},
{"data":{"name":"dbox"},"mark":{"type":"tick","orient":"horizontal","size":38,"thickness":1,"color":"#444","opacity":1},"encoding":{"x":{"field":"g","type":"quantitative"},"y":{"field":"lo","type":"quantitative"}}},
{"data":{"name":"dbox"},"mark":{"type":"tick","orient":"horizontal","size":38,"thickness":1,"color":"#444","opacity":1},"encoding":{"x":{"field":"g","type":"quantitative"},"y":{"field":"hi","type":"quantitative"}}},
{"data":{"name":"dax"},"mark":{"type":"rule","color":"black","strokeWidth":1},"encoding":{"x":{"datum":0.42},"y":{"field":"a","type":"quantitative"},"y2":{"field":"b"}}},
{"data":{"name":"dpts"},"mark":{"type":"square","size":9,"color":"black","opacity":1},"encoding":{"x":{"field":"x","type":"quantitative"},"y":{"field":"y","type":"quantitative"}}}
]},
{"width":206,"height":184.1,"title":{"text":"E.","dx":-32.4,"dy":17.8},
"layer":[
{"data":{"name":"ebox"},"mark":{"type":"rule","strokeDash":[3,3],"color":"black","strokeWidth":1},"encoding":{
"x":{"field":"g","type":"quantitative","scale":{"domain":[0.42,2.58],"nice":false,"zero":false},"axis":{"values":[1,2],"tickCount":40,"labelExpr":"datum.value == 1 ? 'Unmethylated' : 'Methylated'","labelOverlap":false,"ticks":false,"tickSize":0,"labelPadding":-2,"labelFontSize":10,"title":"ZNF420","titleFontSize":13,"titleX":102.6,"titleY":-195.6,"titleBaseline":"alphabetic","titleAlign":"center"}},
"y":{"field":"lo","type":"quantitative","scale":{"domain":[0.517,8.841],"nice":false,"zero":false},"axis":{"values":[2,4,6,8],"tickCount":40,"format":"d","labelOverlap":false,"tickSize":4.5,"labelPadding":3,"labelFontSize":10,"title":"Expression","titleFontSize":13,"titleX":-28.6,"titleY":79.3}},
"y2":{"field":"hi"}}},
{"data":{"name":"ebox"},"mark":{"type":"bar","width":76,"fill":"white","stroke":"black","strokeWidth":1},"encoding":{"x":{"field":"g","type":"quantitative"},"y":{"field":"q1","type":"quantitative"},"y2":{"field":"q3"}}},
{"data":{"name":"ebox"},"mark":{"type":"tick","orient":"horizontal","size":76,"thickness":3.3,"color":"black","opacity":1},"encoding":{"x":{"field":"g","type":"quantitative"},"y":{"field":"med","type":"quantitative"}}},
{"data":{"name":"ebox"},"mark":{"type":"tick","orient":"horizontal","size":38,"thickness":1,"color":"#444","opacity":1},"encoding":{"x":{"field":"g","type":"quantitative"},"y":{"field":"lo","type":"quantitative"}}},
{"data":{"name":"ebox"},"mark":{"type":"tick","orient":"horizontal","size":38,"thickness":1,"color":"#444","opacity":1},"encoding":{"x":{"field":"g","type":"quantitative"},"y":{"field":"hi","type":"quantitative"}}},
{"data":{"name":"eax"},"mark":{"type":"rule","color":"black","strokeWidth":1},"encoding":{"x":{"datum":0.42},"y":{"field":"a","type":"quantitative"},"y2":{"field":"b"}}},
{"data":{"name":"epts"},"mark":{"type":"square","size":9,"color":"black","opacity":1},"encoding":{"x":{"field":"x","type":"quantitative"},"y":{"field":"y","type":"quantitative"}}}
]}
],"spacing":64,"bounds":"flush"}
]
}
